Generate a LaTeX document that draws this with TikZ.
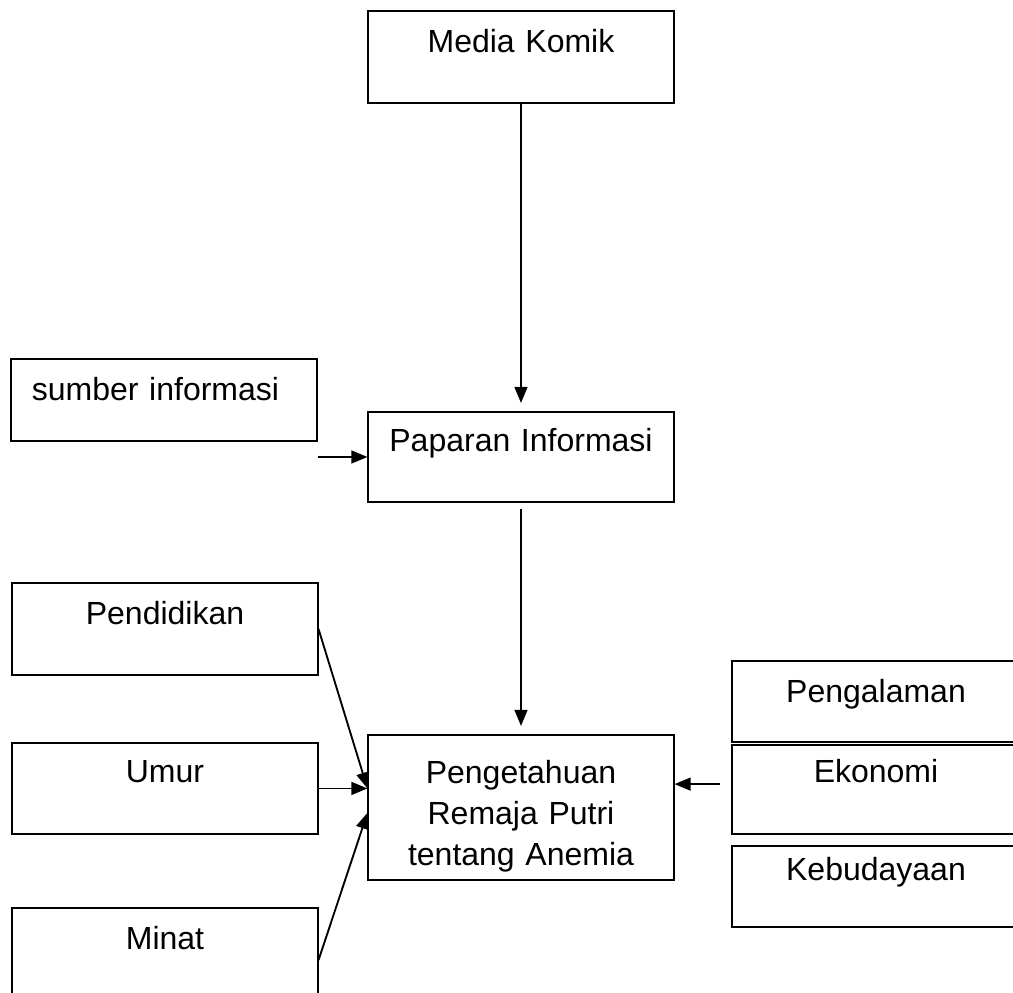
\documentclass[tikz,border=0pt]{standalone}
\usepackage{fontspec}
\setmainfont{Liberation Sans}
\usetikzlibrary{arrows.meta, positioning}

\begin{document}
\begin{tikzpicture}[x=0.375pt, y=-0.375pt]
\tikzset{
    kotak/.style={rectangle, draw=black, line width=0.75pt, inner sep=0pt, anchor=north, align=center, text width=114.4pt, text height=15pt, font=\fontsize{12}{15.4}\selectfont},
    kanan/.style={kotak, anchor=north west, text width=123.75pt},
    panah/.style={-{Triangle[length=6pt, width=4.8pt]}, line width=0.7pt}
}
\clip (0,0) rectangle (1013,993);
% kolom tengah
\node[kotak, text height=15.75pt, text depth=18.75pt] (media) at (521,10) {Media Komik};
\node[kotak, text depth=18.75pt] (papar) at (521,411) {Paparan Informasi};
\node[kotak, anchor=center, minimum height=54.4pt] (tahu) at (521,807.5) {Pengetahuan\\Remaja Putri\\tentang Anemia};
% kolom kiri
\node[kotak, text height=15.75pt, text depth=15pt] (sumber) at (164,358) {sumber informasi\hspace*{6.4pt}\mbox{}};
\node[kotak, text height=15.4pt, text depth=19.1pt] (didik) at (165,582) {Pendidikan};
\node[kotak, text depth=19.1pt] (umur) at (165,742) {Umur};
\node[kotak, text height=15.4pt, text depth=30pt] (minat) at (165,907) {Minat};
% kolom kanan (terpotong di tepi kanan)
\node[kanan, text height=15.75pt, text depth=14.6pt] (alam) at (731,660) {Pengalaman\hspace*{15.75pt}\mbox{}};
\node[kanan, text height=14.25pt, text depth=19.1pt] (ekon) at (731,744) {Ekonomi\hspace*{15.75pt}\mbox{}};
\node[kanan, text height=13.1pt, text depth=17.25pt] (budaya) at (731,845) {Kebudayaan\hspace*{15.75pt}\mbox{}};
% panah
\draw[panah, shorten >=3pt] (media) -- (papar);
\draw[panah, shorten <=2.25pt, shorten >=3pt] (papar) -- (tahu);
\draw[panah] (sumber.south east |- papar.west) -- (papar.west);
\draw[panah] (didik.east) -- (umur.east -| tahu.west);
\draw[panah] (umur.east) -- (umur.east -| tahu.west);
\draw[panah] ([yshift=-19.9pt]minat.north east) -- ([yshift=-2pt]tahu.west);
\draw[panah] ([xshift=-4.1pt, yshift=2pt]ekon.west) -- ([yshift=2pt]ekon.west -| tahu.east);
\end{tikzpicture}
\end{document}
